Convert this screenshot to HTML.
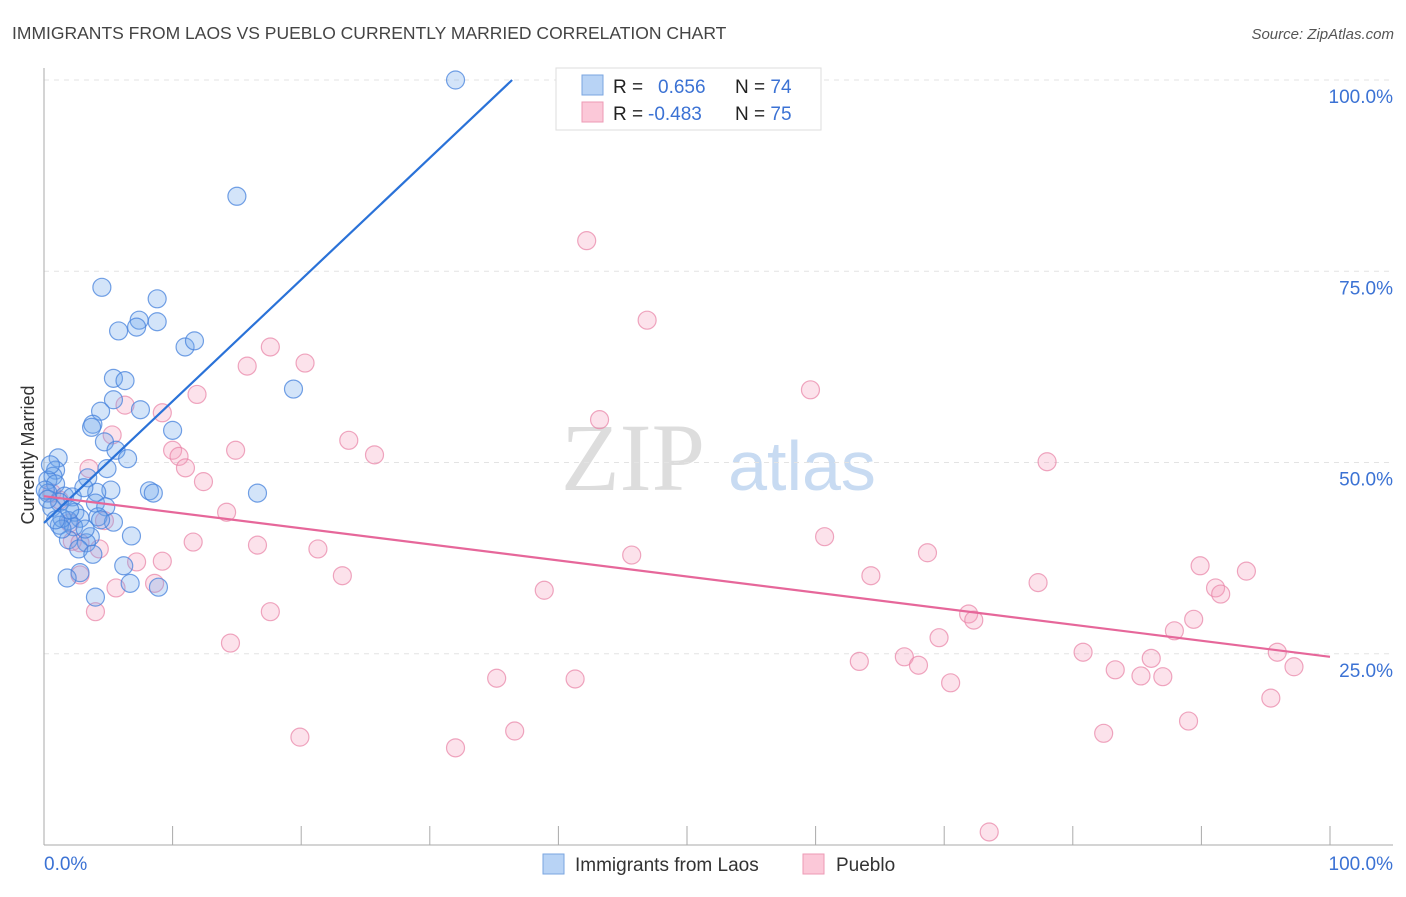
<!DOCTYPE html>
<html><head><meta charset="utf-8"><style>
body{margin:0;background:#fff;font-family:"Liberation Sans",sans-serif}
</style></head><body>
<svg id="chart" width="1406" height="892" xmlns="http://www.w3.org/2000/svg" font-family="Liberation Sans, sans-serif">
<text x="12" y="39" font-size="17.5" fill="#444">IMMIGRANTS FROM LAOS VS PUEBLO CURRENTLY MARRIED CORRELATION CHART</text>
<text x="1394" y="39" font-size="15" fill="#555" text-anchor="end" font-style="italic">Source: ZipAtlas.com</text>
<g>
<text x="633" y="490" font-size="96" font-family="Liberation Serif, serif" fill="#ddd" text-anchor="middle">ZIP</text>
<text x="802" y="490" font-size="70" fill="#c8dbf2" text-anchor="middle">atlas</text>
</g>
<g id="grid"></g><g id="axes"></g><g id="marks"></g>
<text transform="translate(34,455) rotate(-90)" font-size="18" fill="#333" text-anchor="middle">Currently Married</text>
<g>
<rect x="556" y="68" width="265" height="62" fill="#fff" stroke="#ddd"/>
<rect x="582" y="75" width="21" height="20" fill="#b8d3f5" stroke="#7aa6e0"/>
<rect x="582" y="102" width="21" height="20" fill="#fbc8d8" stroke="#ec9ab5"/>
<text x="613" y="93" font-size="19" fill="#222">R = <tspan fill="#3b72d4" x="658">0.656</tspan><tspan x="735" fill="#222">N = </tspan><tspan fill="#3b72d4">74</tspan></text>
<text x="613" y="120" font-size="19" fill="#222">R = <tspan fill="#3b72d4" x="648">-0.483</tspan><tspan x="735" fill="#222">N = </tspan><tspan fill="#3b72d4">75</tspan></text>
</g>
<g>
<rect x="543" y="854" width="21" height="20" fill="#b8d3f5" stroke="#7aa6e0"/>
<text x="575" y="871" font-size="19" fill="#333">Immigrants from Laos</text>
<rect x="803" y="854" width="21" height="20" fill="#fbc8d8" stroke="#ec9ab5"/>
<text x="836" y="871" font-size="19" fill="#333">Pueblo</text>
</g>
</svg>
<script>
const yTicks=[25,50,75,100];
const yTickLabels=["25.0%","50.0%","75.0%","100.0%"];
const xTicks=[0,10,20,30,40,50,60,70,80,90,100];
const laosX=[32.0,15.0,4.5,8.8,7.4,7.2,5.8,8.8,10.97,11.7,5.4,6.3,5.4,4.4,7.5,19.4,3.8,3.7,10.0,4.7,5.6,6.5,1.1,4.9,0.9,0.7,0.3,0.9,3.4,5.2,4.1,8.2,8.5,16.6,0.3,1.6,2.2,1.2,4.0,4.8,0.6,2.4,2.8,4.2,1.9,5.4,1.2,2.3,3.6,6.8,1.9,3.3,2.7,3.8,6.2,2.8,1.8,6.7,8.9,4.0,0.1,0.5,1.4,2.0,3.1,4.4,1.4,0.3,0.9,3.2];
const laosY=[100,84.8,72.9,71.4,68.6,67.7,67.2,68.4,65.1,65.9,61.0,60.7,58.2,56.7,56.9,59.6,55.0,54.6,54.2,52.7,51.6,50.5,50.6,49.2,49.0,48.2,47.7,47.2,48.0,46.4,46.1,46.3,46.0,46.0,46.0,45.6,45.5,44.8,44.7,44.2,44.1,43.5,42.7,42.9,42.4,42.2,41.8,41.6,40.3,40.4,39.9,39.5,38.7,38.0,36.5,35.6,34.9,34.2,33.7,32.4,46.4,49.7,42.7,43.8,46.7,42.5,41.3,45.2,42.5,41.3];
const puebloX=[42.2,46.9,17.6,20.3,15.8,59.6,11.9,6.3,43.2,9.2,5.3,23.7,14.9,25.7,10.0,78.0,10.5,11.0,3.5,12.4,14.2,4.7,60.7,11.6,16.6,21.3,45.7,68.7,4.3,2.2,9.2,7.2,23.2,64.3,77.3,89.9,93.5,8.6,5.6,38.9,91.1,91.5,4.0,17.6,71.9,72.3,89.4,87.9,69.6,14.5,80.8,95.9,63.4,66.9,68.0,86.1,83.3,85.3,87.0,97.2,35.2,41.3,70.5,95.4,89.0,36.6,82.4,19.9,32.0,73.5,2.8,1.2,2.8,2.0,0.6];
const puebloY=[79.0,68.6,65.1,63.0,62.6,59.5,58.9,57.5,55.6,56.5,53.6,52.9,51.6,51.0,51.6,50.1,50.8,49.3,49.2,47.5,43.5,42.4,40.3,39.6,39.2,38.7,37.9,38.2,38.7,39.7,37.1,37.0,35.2,35.2,34.3,36.5,35.8,34.2,33.6,33.3,33.6,32.8,30.5,30.5,30.2,29.4,29.5,28.0,27.1,26.4,25.2,25.2,24.0,24.6,23.5,24.4,22.9,22.1,22.0,23.3,21.8,21.7,21.2,19.2,16.2,14.9,14.6,14.1,12.7,1.7,35.3,45.1,39.5,42.1,46.0];
const laosTrend=[[0,42.1],[36.4,100]];
const puebloTrend=[[0,45.6],[100,24.6]];
const X=v=>44+v*12.86, Y=v=>845-v*7.65;
const NS="http://www.w3.org/2000/svg";
function mk(t,a,p){const e=document.createElementNS(NS,t);for(const k in a)e.setAttribute(k,a[k]);p.appendChild(e);return e;}
const grid=document.getElementById('grid'),axes=document.getElementById('axes'),marks=document.getElementById('marks');
yTicks.forEach((v,i)=>{
 const l=mk('line',{x1:44,x2:1393,y1:Y(v),y2:Y(v),stroke:'#e3e3e3','stroke-dasharray':'5,5'},grid);
 
 
 const t=mk('text',{x:1393,y:Y(v)+23,'font-size':19,fill:'#3b72d4','text-anchor':'end'},axes);
 t.textContent=yTickLabels[i];
 
 
});
const ya=mk('line',{x1:44,x2:44,y1:68,y2:845,stroke:'#aaa'},axes);


const xa=mk('line',{x1:44,x2:1393,y1:845,y2:845,stroke:'#aaa'},axes);


xTicks.forEach(v=>{const t=mk('line',{x1:X(v),x2:X(v),y1:826,y2:845,stroke:'#aaa'},axes);
 
 });
const x0=mk('text',{x:44,y:870,'font-size':19,fill:'#3b72d4'},axes);x0.textContent='0.0%';


const x1=mk('text',{x:1393,y:870,'font-size':19,fill:'#3b72d4','text-anchor':'end'},axes);x1.textContent='100.0%';


puebloX.forEach((v,i)=>{const c=mk('circle',{cx:X(v),cy:Y(puebloY[i]),r:9,fill:'rgba(244,160,188,0.3)',stroke:'rgba(232,130,165,0.7)','stroke-width':1.2},marks);
 
 });
laosX.forEach((v,i)=>{const c=mk('circle',{cx:X(v),cy:Y(laosY[i]),r:9,fill:'rgba(110,165,235,0.3)',stroke:'rgba(70,130,220,0.75)','stroke-width':1.2},marks);
 
 });
const lt=mk('line',{x1:X(laosTrend[0][0]),y1:Y(laosTrend[0][1]),x2:X(laosTrend[1][0]),y2:Y(laosTrend[1][1]),stroke:'#2a72d8','stroke-width':2.2},marks);


const pt=mk('line',{x1:X(puebloTrend[0][0]),y1:Y(puebloTrend[0][1]),x2:X(puebloTrend[1][0]),y2:Y(puebloTrend[1][1]),stroke:'#e6679a','stroke-width':2.2},marks);


</script>
</body></html>
